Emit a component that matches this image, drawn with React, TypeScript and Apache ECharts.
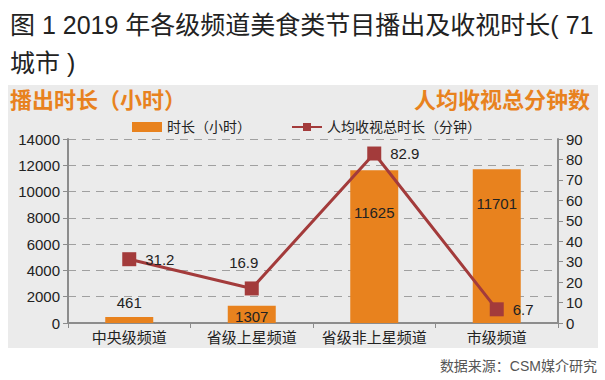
import React, { useEffect, useRef } from "react";
import * as echarts from "echarts";

const categories = ["中央级频道", "省级上星频道", "省级非上星频道", "市级频道"];
const hoursValues = [461, 1307, 11625, 11701];
const minutesValues = [31.2, 16.9, 82.9, 6.7];
const leftTicks = { min: 0, max: 14000, interval: 2000 };
const rightTicks = { min: 0, max: 90, interval: 10 };
const titleLines = ["图 1 2019 年各级频道美食类节目播出及收视时长( 71", "城市 )"];
const leftHeader = "播出时长（小时）";
const rightHeader = "人均收视总分钟数";
const barName = "时长（小时）";
const lineName = "人均收视总时长（分钟）";
const sourceText = "数据来源：CSM媒介研究";

const FONT = "'Liberation Sans', Arial, 'Noto Sans CJK SC', sans-serif";
const ORANGE = "#e8821e";
const RED = "#a33b3b";

export default function App() {
  const ref = useRef<HTMLDivElement>(null);
  useEffect(() => {
    if (!ref.current) return;
    const chart = echarts.init(ref.current, undefined, { renderer: "svg" });
    const barLabelCfg = [
      { position: "top", offset: [0, -2] },
      { position: "insideTop", offset: [0, -2] },
      { position: "insideTop", offset: [0, 30] },
      { position: "insideTop", offset: [0, 22] },
    ];
    const lineLabelCfg = [
      { position: "right", offset: [4, 0] },
      { position: "top", offset: [-8, -6] },
      { position: "right", offset: [4, 0] },
      { position: "right", offset: [4, 0] },
    ];
    chart.setOption({
      animation: false,
      backgroundColor: "#ffffff",
      textStyle: { fontFamily: FONT },
      graphic: [
        {
          type: "rect",
          shape: { x: 8, y: 85, width: 590, height: 263 },
          style: { fill: "#ebebeb" },
          z: -10,
        },
        {
          type: "text",
          x: 10,
          y: 25,
          style: { text: titleLines[0], font: "25px " + FONT, fill: "#222", verticalAlign: "middle" },
        },
        {
          type: "text",
          x: 10,
          y: 63,
          style: { text: titleLines[1], font: "25px " + FONT, fill: "#222", verticalAlign: "middle" },
        },
        {
          type: "text",
          x: 10,
          y: 100,
          style: { text: leftHeader, font: "bold 22px " + FONT, fill: ORANGE, verticalAlign: "middle" },
        },
        {
          type: "text",
          x: 590,
          y: 100,
          style: { text: rightHeader, font: "bold 22px " + FONT, fill: ORANGE, verticalAlign: "middle", align: "right" },
        },
        {
          type: "text",
          x: 597,
          y: 366,
          style: { text: sourceText, font: "14px " + FONT, fill: "#555", verticalAlign: "middle", align: "right" },
        },
      ],
      legend: {
        top: 115,
        left: 127,
        itemGap: 40,
        itemWidth: 30,
        itemHeight: 10,
        textStyle: { fontSize: 14, color: "#222", fontFamily: FONT },
        data: [
          { name: barName, icon: "rect" },
          { name: lineName },
        ],
      },
      grid: { left: 68, right: 47, top: 139, bottom: 57 },
      xAxis: {
        type: "category",
        data: categories,
        axisLine: { lineStyle: { color: "#8c8c8c", width: 2 } },
        axisTick: { show: true, alignWithLabel: false, length: 5, lineStyle: { color: "#8c8c8c" } },
        axisLabel: { interval: 0, fontSize: 15, color: "#222", margin: 7, fontFamily: FONT },
      },
      yAxis: [
        {
          type: "value",
          min: leftTicks.min,
          max: leftTicks.max,
          interval: leftTicks.interval,
          axisLine: { show: true, lineStyle: { color: "#8c8c8c", width: 2 } },
          axisTick: { show: true, length: 5, lineStyle: { color: "#8c8c8c" } },
          axisLabel: { fontSize: 15, color: "#222", margin: 8, fontFamily: FONT, formatter: (v: number) => String(v) },
          splitLine: { show: true, lineStyle: { color: "#a0a0a0", type: [8, 6], width: 1 } },
        },
        {
          type: "value",
          min: rightTicks.min,
          max: rightTicks.max,
          interval: rightTicks.interval,
          axisLine: { show: true, lineStyle: { color: "#8c8c8c", width: 2 } },
          axisTick: { show: true, length: 5, lineStyle: { color: "#8c8c8c" } },
          axisLabel: { fontSize: 15, color: "#222", margin: 8, fontFamily: FONT, formatter: (v: number) => String(v) },
          splitLine: { show: false },
        },
      ],
      series: [
        {
          name: barName,
          type: "bar",
          barWidth: 48,
          itemStyle: { color: ORANGE },
          data: hoursValues.map((v, i) => ({
            value: v,
            label: {
              show: true,
              position: barLabelCfg[i].position,
              offset: barLabelCfg[i].offset,
              fontSize: 15,
              color: "#222",
              fontFamily: FONT,
            },
          })),
        },
        {
          name: lineName,
          type: "line",
          yAxisIndex: 1,
          symbol: "rect",
          symbolSize: 14,
          lineStyle: { color: RED, width: 3 },
          itemStyle: { color: RED },
          z: 5,
          data: minutesValues.map((v, i) => ({
            value: v,
            label: {
              show: true,
              position: lineLabelCfg[i].position,
              offset: lineLabelCfg[i].offset,
              fontSize: 15,
              color: "#222",
              fontFamily: FONT,
            },
          })),
        },
      ],
    });
    return () => chart.dispose();
  }, []);
  return (
    <div
      ref={ref}
      style={{ position: "fixed", left: 0, top: 0, width: 605, height: 380 }}
    />
  );
}
